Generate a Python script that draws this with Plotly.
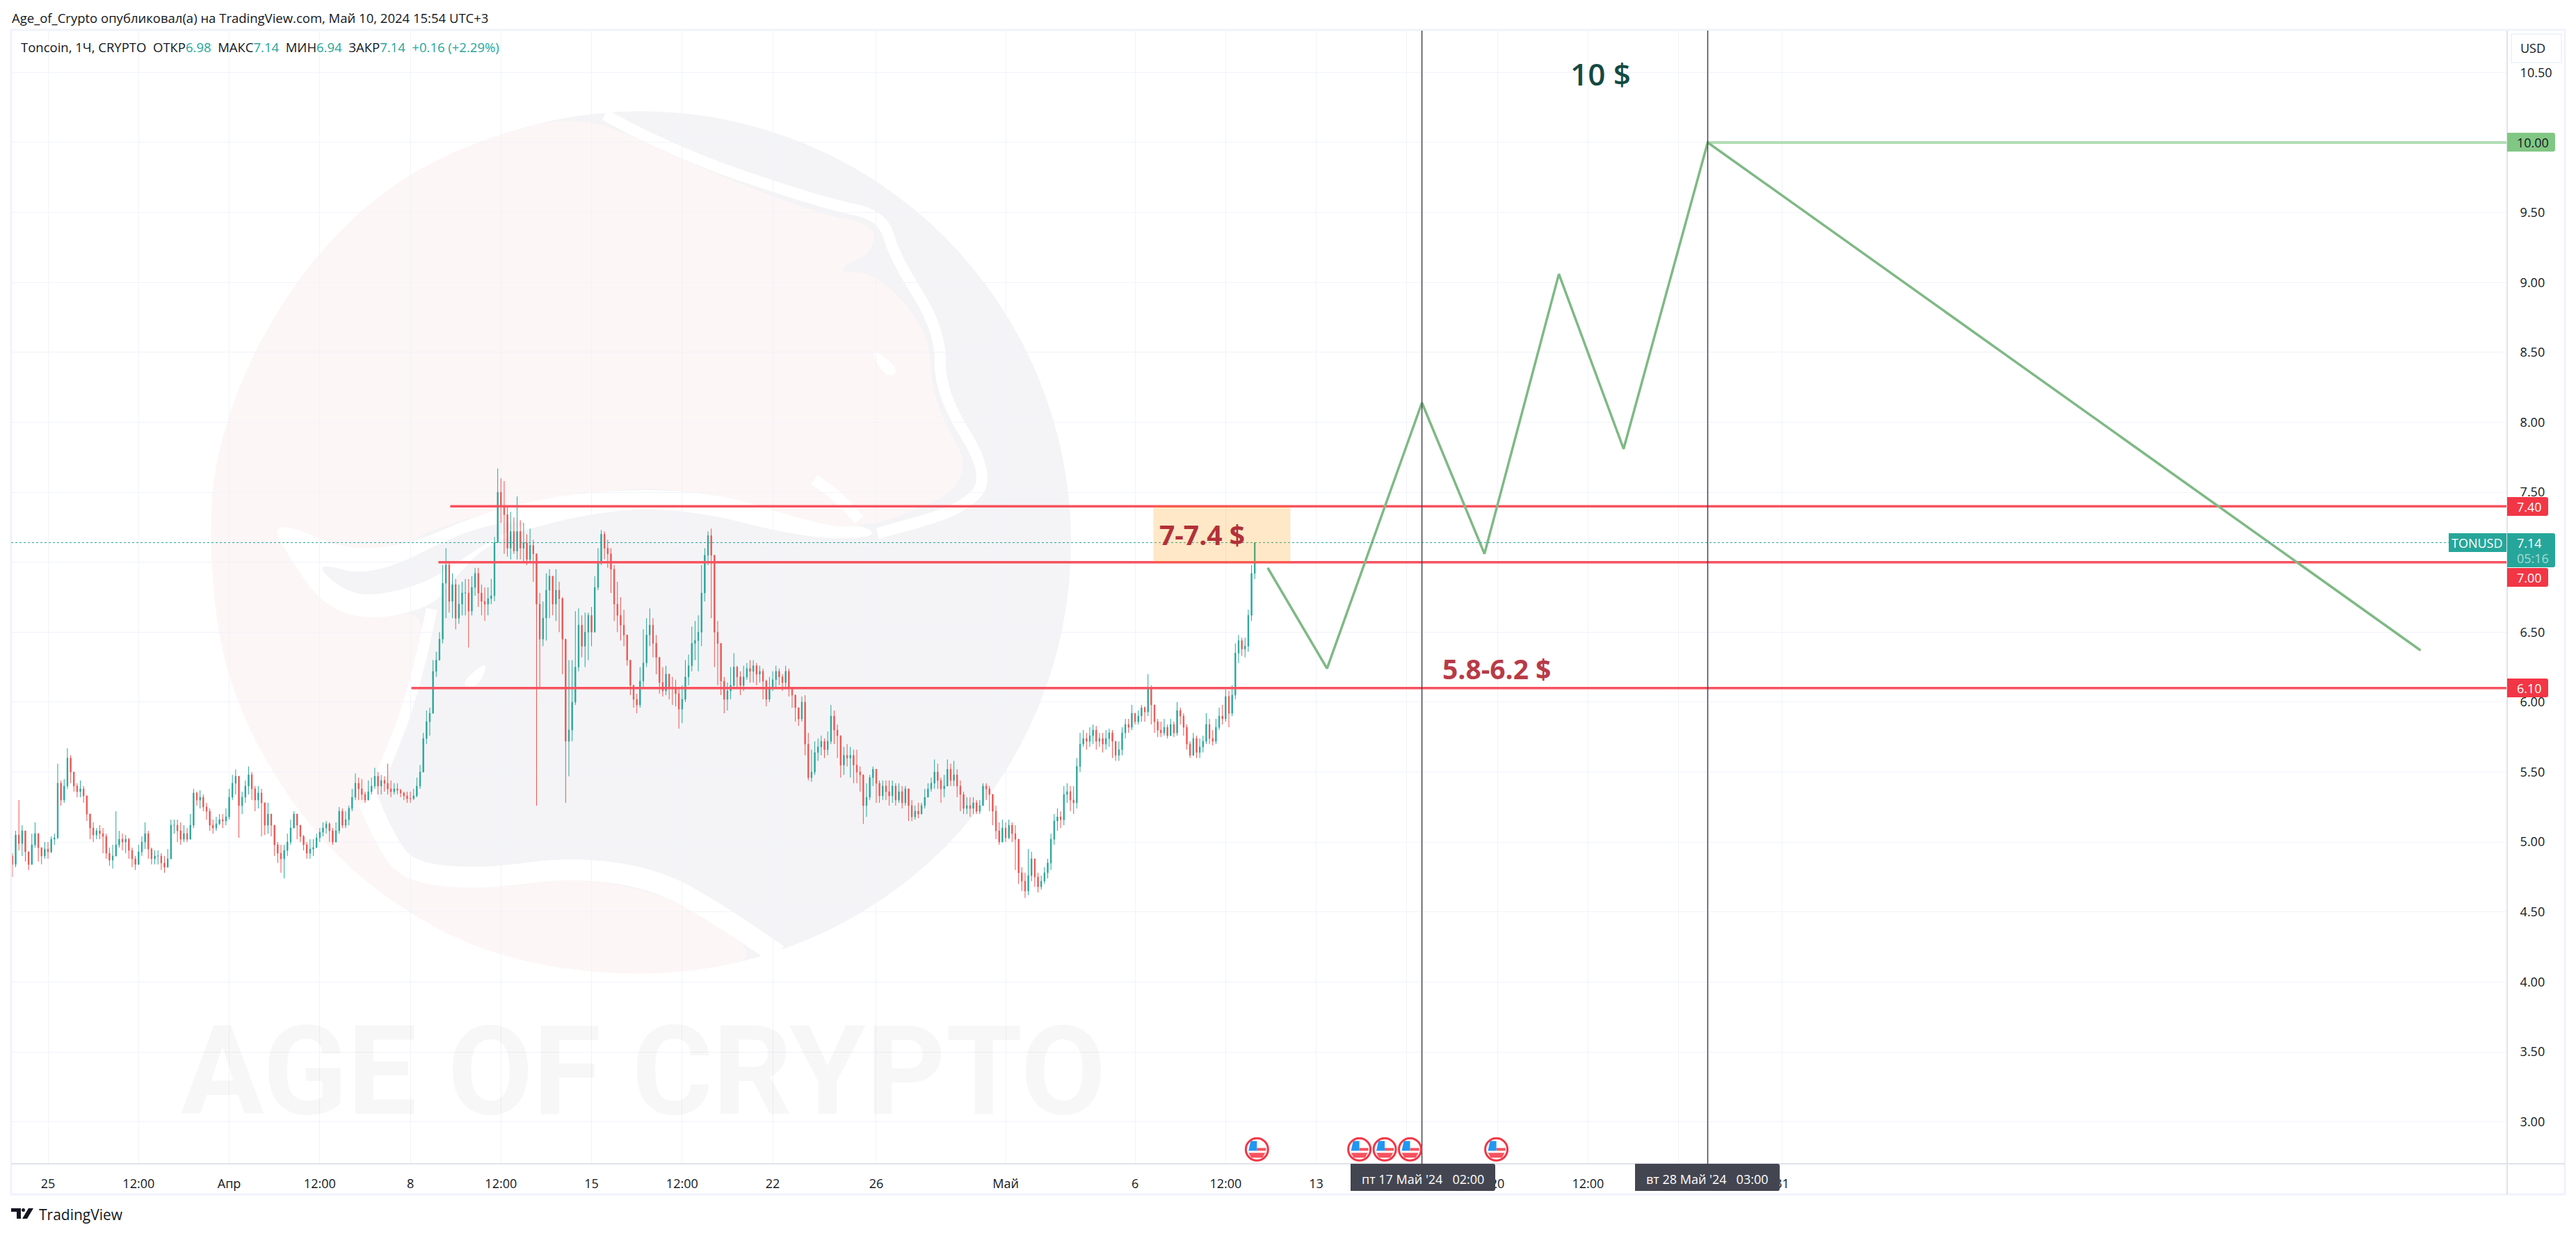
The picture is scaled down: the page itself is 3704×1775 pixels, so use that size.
# -*- coding: utf-8 -*-
# Toncoin chart with drawings, candles (3h steps)
import pandas as pd
import plotly.graph_objects as go

first_bar = "2024-03-23 15:00"
first_open = 4.90

close_prices = [
    4.84,5.05,4.99,5.08,4.93,4.84,4.98,5.06,4.96,4.90,
    4.95,4.93,5.02,5.03,5.42,5.30,5.40,5.60,5.50,5.40,
    5.36,5.38,5.33,5.20,5.10,5.05,5.08,5.06,5.04,4.92,
    4.87,4.90,4.98,5.02,5.00,5.02,4.94,4.88,4.84,4.93,
    5.00,5.06,4.95,4.88,4.90,4.90,4.85,4.82,4.88,5.12,
    5.12,5.08,5.02,5.06,5.02,5.12,5.35,5.30,5.32,5.25,
    5.22,5.12,5.10,5.13,5.16,5.15,5.18,5.32,5.42,5.47,
    5.26,5.32,5.40,5.48,5.38,5.30,5.35,5.28,5.12,5.20,
    5.12,4.98,4.92,4.88,4.94,5.00,5.10,5.20,5.12,5.04,
    4.98,4.92,4.95,4.96,5.03,5.07,5.10,5.13,5.08,5.00,
    5.08,5.22,5.12,5.16,5.24,5.32,5.42,5.38,5.34,5.30,
    5.36,5.40,5.47,5.40,5.44,5.42,5.38,5.36,5.38,5.37,
    5.35,5.33,5.31,5.31,5.33,5.40,5.50,5.74,5.86,5.92,
    6.22,6.30,6.45,6.85,6.98,6.72,6.84,6.60,6.70,6.78,
    6.78,6.65,6.82,6.92,6.78,6.72,6.70,6.74,6.76,7.14,
    7.50,7.40,7.34,7.10,7.22,7.08,7.22,7.10,7.14,7.02,
    7.12,7.06,6.70,6.45,6.60,6.80,6.90,6.70,6.80,6.74,
    6.45,5.72,5.80,6.00,6.25,6.55,6.40,6.50,6.62,6.50,
    6.82,7.00,7.20,7.10,7.06,6.95,6.70,6.62,6.55,6.48,
    6.30,6.12,6.02,5.98,6.15,6.28,6.48,6.55,6.42,6.32,
    6.14,6.08,6.20,6.10,6.10,6.06,5.95,6.02,6.18,6.26,
    6.42,
    6.44,6.50,6.78,7.05,7.19,7.05,6.50,6.42,6.15,6.02,
    6.08,6.12,6.25,6.18,6.12,6.18,6.24,6.22,6.26,6.20,
    6.22,6.15,6.02,6.10,6.16,6.22,6.18,6.14,6.22,6.10,
    6.05,5.96,5.88,6.00,5.70,5.46,5.50,5.64,5.68,5.72,
    5.66,5.72,5.90,5.80,5.76,5.55,5.62,5.60,5.62,5.55,
    5.50,5.48,5.26,5.32,5.46,5.52,5.42,5.33,5.40,5.36,
    5.33,5.40,5.30,5.36,5.28,5.38,5.26,5.18,5.22,5.20,
    5.26,5.32,5.38,5.42,5.50,5.44,5.38,5.40,5.52,5.44,
    5.48,5.40,5.34,5.24,5.26,5.24,5.28,5.22,5.26,5.40,
    5.38,5.34,5.22,5.08,5.00,5.10,5.03,5.12,5.06,5.02,
    4.78,4.72,4.65,4.76,4.88,4.75,4.68,4.72,4.78,4.85,
    5.02,5.15,5.18,5.16,5.34,5.36,5.30,5.28,5.54,5.70,
    5.74,5.72,5.76,5.80,5.72,5.74,5.70,5.74,5.78,5.72,
    5.62,5.66,5.78,5.84,5.82,5.92,5.86,5.90,5.96,5.93,
    6.10,5.98,5.86,5.80,5.78,5.82,5.76,5.84,5.78,5.94,
    5.90,5.82,5.70,5.62,5.74,5.64,5.68,5.72,5.84,5.74,
    5.72,5.82,5.90,5.88,6.04,5.92,6.05,6.35,6.44,6.38,
    6.40,6.62,6.92,7.14,
]
high_prices = [
    4.92,5.08,5.30,5.12,5.00,4.92,5.06,5.14,5.00,4.96,
    5.00,5.00,5.04,5.06,5.56,5.44,5.45,5.67,5.62,5.50,
    5.42,5.44,5.40,5.30,5.18,5.14,5.10,5.12,5.10,5.06,
    4.96,4.98,5.22,5.08,5.06,5.05,5.03,4.96,4.90,4.98,
    5.04,5.14,5.08,4.96,4.94,4.94,4.92,4.90,4.95,5.16,
    5.16,5.16,5.14,5.12,5.10,5.20,5.38,5.36,5.37,5.34,
    5.28,5.24,5.16,5.18,5.20,5.20,5.24,5.38,5.48,5.52,
    5.38,5.36,5.44,5.54,5.50,5.40,5.40,5.38,5.28,5.28,
    5.18,5.12,5.00,4.98,4.98,5.06,5.16,5.22,5.20,5.10,
    5.05,5.00,5.02,5.02,5.06,5.10,5.14,5.15,5.14,5.10,
    5.14,5.25,5.24,5.22,5.26,5.38,5.49,5.46,5.45,5.36,
    5.44,5.46,5.53,5.50,5.48,5.47,5.56,5.44,5.42,5.42,
    5.38,5.36,5.36,5.36,5.38,5.46,5.55,5.78,5.94,5.96,
    6.30,6.36,6.50,6.98,7.10,7.00,6.92,6.88,6.84,6.86,
    6.88,6.88,6.90,6.96,6.96,6.84,6.82,6.82,6.88,7.18,
    7.67,7.60,7.58,7.40,7.36,7.32,7.47,7.30,7.28,7.20,
    7.24,7.16,7.00,6.78,6.72,6.92,6.95,6.90,6.95,6.86,
    6.75,6.42,6.30,6.30,6.65,6.67,6.62,6.64,6.64,6.68,
    6.90,7.10,7.23,7.22,7.16,7.10,6.98,6.86,6.75,6.66,
    6.44,6.30,6.12,6.06,6.25,6.52,6.60,6.67,6.60,6.48,
    6.28,6.25,6.26,6.20,6.18,6.16,6.10,6.12,6.30,6.34,
    6.54,
    6.58,6.62,6.98,7.10,7.22,7.24,7.05,6.58,6.30,6.18,
    6.14,6.25,6.35,6.26,6.22,6.26,6.28,6.30,6.30,6.28,
    6.26,6.24,6.16,6.18,6.22,6.26,6.24,6.20,6.26,6.24,
    6.10,6.02,5.96,6.04,6.05,5.78,5.66,5.72,5.74,5.76,
    5.74,5.79,5.98,5.94,5.84,5.76,5.68,5.70,5.68,5.66,
    5.66,5.54,5.48,5.42,5.48,5.54,5.52,5.44,5.44,5.44,
    5.44,5.44,5.42,5.42,5.40,5.40,5.38,5.30,5.26,5.28,
    5.28,5.38,5.42,5.46,5.59,5.56,5.46,5.48,5.59,5.56,
    5.58,5.52,5.44,5.36,5.32,5.32,5.32,5.30,5.30,5.42,
    5.42,5.40,5.34,5.26,5.14,5.16,5.14,5.16,5.14,5.12,
    4.94,4.82,4.78,4.95,4.93,4.88,4.78,4.76,4.82,4.88,
    5.06,5.20,5.24,5.22,5.40,5.42,5.40,5.40,5.60,5.78,
    5.80,5.78,5.82,5.84,5.83,5.78,5.78,5.80,5.81,5.80,
    5.72,5.72,5.82,5.88,5.88,5.98,5.92,5.94,5.98,5.97,
    6.20,6.12,5.98,5.88,5.86,5.88,5.84,5.88,5.86,6.00,
    5.96,5.92,5.84,5.72,5.78,5.76,5.74,5.76,5.92,5.88,
    5.80,5.88,5.96,5.98,6.09,6.08,6.12,6.42,6.48,6.46,
    6.46,6.66,6.98,7.14,
]
low_prices = [
    4.75,4.82,4.94,4.90,4.86,4.80,4.84,4.96,4.86,4.84,
    4.88,4.88,4.92,4.98,5.02,5.26,5.28,5.38,5.42,5.36,
    5.32,5.32,5.28,5.15,5.02,5.00,5.02,5.02,4.92,4.88,
    4.83,4.81,4.90,4.96,4.94,4.92,4.88,4.82,4.80,4.84,
    4.90,4.95,4.88,4.84,4.84,4.84,4.80,4.78,4.82,4.88,
    5.06,5.00,4.98,5.00,5.00,5.02,5.10,5.26,5.24,5.22,
    5.16,5.08,5.06,5.08,5.12,5.10,5.12,5.16,5.30,5.34,
    5.03,5.20,5.28,5.34,5.30,5.22,5.24,5.04,5.05,5.06,
    5.04,4.90,4.85,4.78,4.74,4.90,4.98,5.10,5.02,5.00,
    4.94,4.88,4.88,4.90,4.96,5.00,5.04,5.06,5.00,4.98,
    5.02,5.06,5.10,5.10,5.12,5.22,5.30,5.30,5.30,5.28,
    5.30,5.34,5.38,5.34,5.34,5.36,5.34,5.32,5.34,5.34,
    5.32,5.30,5.28,5.28,5.30,5.32,5.38,5.50,5.70,5.76,
    5.96,6.18,6.30,6.42,6.60,6.64,6.60,6.52,6.56,6.62,
    6.62,6.39,6.62,6.76,6.68,6.62,6.58,6.62,6.70,6.72,
    7.14,7.28,7.06,7.04,7.02,7.06,7.02,7.02,7.00,6.98,
    7.00,6.86,5.26,6.10,6.40,6.44,6.60,6.62,6.58,6.50,
    6.20,5.28,5.47,5.72,5.98,6.22,6.32,6.25,6.30,6.40,
    6.50,6.80,6.98,7.02,6.96,6.78,6.58,6.50,6.44,6.40,
    6.26,6.05,5.96,5.92,5.96,6.10,6.25,6.40,6.32,6.20,
    6.06,6.04,6.05,6.02,5.98,5.97,5.81,5.85,6.00,6.12,
    6.22,
    6.30,6.22,6.40,6.72,6.98,6.60,6.25,6.12,6.05,5.92,
    5.94,6.02,6.10,6.10,6.05,6.08,6.16,6.14,6.14,6.12,
    6.14,6.02,5.97,6.00,6.08,6.10,6.12,6.08,6.10,6.04,
    5.96,5.86,5.83,5.86,5.62,5.44,5.43,5.48,5.58,5.62,
    5.60,5.62,5.70,5.70,5.60,5.46,5.48,5.54,5.46,5.42,
    5.42,5.36,5.13,5.18,5.30,5.40,5.28,5.28,5.30,5.30,
    5.26,5.28,5.26,5.28,5.24,5.26,5.15,5.15,5.16,5.17,
    5.20,5.24,5.32,5.36,5.38,5.38,5.28,5.32,5.40,5.40,
    5.40,5.32,5.22,5.20,5.20,5.18,5.20,5.20,5.20,5.26,
    5.30,5.22,5.12,5.02,4.98,5.00,5.00,5.02,5.00,4.80,
    4.70,4.65,4.60,4.62,4.72,4.68,4.64,4.66,4.70,4.74,
    4.80,4.98,5.08,5.10,5.12,5.28,5.22,5.20,5.24,5.50,
    5.68,5.66,5.68,5.70,5.66,5.68,5.64,5.66,5.68,5.60,
    5.58,5.58,5.62,5.74,5.78,5.80,5.84,5.84,5.86,5.86,
    5.90,5.84,5.78,5.75,5.75,5.76,5.74,5.76,5.75,5.76,
    5.84,5.76,5.66,5.60,5.64,5.60,5.60,5.64,5.70,5.70,
    5.69,5.70,5.80,5.84,5.86,5.82,5.90,6.02,6.28,6.33,
    6.32,6.36,6.58,6.88,
]

y_ticks = [3.0,3.5,4.0,4.5,5.0,5.5,6.0,6.5,7.0,7.5,8.0,8.5,9.0,9.5,10.0,10.5]
x_ticks = ["2024-03-25","2024-03-28 12:00","2024-04-01","2024-04-04 12:00","2024-04-08",
           "2024-04-11 12:00","2024-04-15","2024-04-18 12:00","2024-04-22","2024-04-26",
           "2024-05-01","2024-05-06","2024-05-09 12:00","2024-05-13","2024-05-16 12:00",
           "2024-05-20","2024-05-23 12:00","2024-05-27","2024-05-31"]
# the ticks under the two time chips have no visible label
x_labels = ["25","12:00","Апр","12:00","8","12:00","15","12:00","22","26","Май","6","12:00",
            "13","","20","12:00","","31"]

forecast_x = ["2024-05-11 03:00","2024-05-13 10:00","2024-05-17 02:00","2024-05-19 12:00",
              "2024-05-22 09:00","2024-05-24 21:00","2024-05-28 03:00","2024-06-24 16:00"]
forecast_y = [6.96,6.24,8.14,7.06,9.06,7.81,10.0,6.37]

level_prices = [7.40,7.00,6.10]
level_starts = ["2024-04-09 13:00","2024-04-09 02:00","2024-04-08 01:00"]
event_dates = ["2024-05-10 17:00","2024-05-14 16:00","2024-05-15 15:30","2024-05-16 15:00","2024-05-19 23:00"]
marker_dates = ["2024-05-17 02:00","2024-05-28 03:00"]

last_price = 7.14
target_price = 10.0
x_range = ["2024-03-23 13:48","2024-06-28 00:18"]
y_range = [2.70,10.80]

W, H = 3704, 1775
L, R, T, B = 16, 3605, 44, 1674

TEAL = "#26a69a"
RED = "#ef5350"
LEVEL = "#f7525f"
CHIP_RED = "#f23645"
GREEN = "#81c784"
INK = "#131722"
GRID = "#f0f3fa"
FONT = "Open Sans"
PINK_WM = "#fdf6f6"
GRAY_WM = "#f4f4f6"


def px(x):
    return (x - L) / (R - L)


def py(y):
    return (B - y) / (B - T)


def smooth(points, closed=True):
    # quadratic curves through the midpoints, pixel points to paper fractions
    p = [(px(a), py(b)) for a, b in points]
    if closed:
        start = ((p[-1][0] + p[0][0]) / 2, (p[-1][1] + p[0][1]) / 2)
        s = f"M{start[0]},{start[1]}"
        for i in range(len(p)):
            n = p[(i + 1) % len(p)]
            s += f" Q{p[i][0]},{p[i][1]} {(p[i][0]+n[0])/2},{(p[i][1]+n[1])/2}"
        return s + " Z"
    s = f"M{p[0][0]},{p[0][1]}"
    for i in range(1, len(p) - 1):
        n = p[i + 1]
        s += f" Q{p[i][0]},{p[i][1]} {(p[i][0]+n[0])/2},{(p[i][1]+n[1])/2}"
    return s + f" L{p[-1][0]},{p[-1][1]}"


def wm(points):
    # watermark outline was measured on a crop, bring it back to page pixels
    return [(200 + a / 1.0453, 100 + b / 1.0116) for a, b in points]


def rounded(x0, y0, x1, y1, r=3):
    a, b, c, d = px(x0), py(y0), px(x1), py(y1)
    rx, ry = r / (R - L), r / (B - T)
    return (f"M{a},{b} L{c-rx},{b} Q{c},{b} {c},{b-ry} L{c},{d+ry} Q{c},{d} {c-rx},{d} "
            f"L{a},{d} Z")


shapes = []
notes = []


def page_rect(x0, y0, x1, y1, fill, line=None, width=0, layer="above"):
    shapes.append(dict(type="rect", xref="paper", yref="paper", x0=px(x0), x1=px(x1), y0=py(y0), y1=py(y1),
                       fillcolor=fill, line=dict(color=line or "rgba(0,0,0,0)", width=width), layer=layer))


def blob(points, fill):
    shapes.append(dict(type="path", xref="paper", yref="paper", path=smooth(wm(points)), fillcolor=fill,
                       line=dict(width=0), layer="below"))


def stroke(points, width):
    shapes.append(dict(type="path", xref="paper", yref="paper", path=smooth(wm(points), closed=False),
                       fillcolor="rgba(0,0,0,0)", line=dict(color="white", width=width), layer="below"))


def chip(x0, y0, x1, y1, fill):
    shapes.append(dict(type="path", xref="paper", yref="paper", path=rounded(x0, y0, x1, y1), fillcolor=fill,
                       line=dict(width=0), layer="above"))


def text(x, y, s, size=18, color=INK, anchor="center", weight=None, family=FONT):
    notes.append(dict(xref="paper", yref="paper", x=px(x), y=py(y), text=s, showarrow=False, xanchor=anchor,
                      yanchor="middle", borderpad=0,
                      font=dict(size=size, color=color, family=family, weight=weight)))


# watermark: disc, pink head, white swooshes
shapes.append(dict(type="circle", xref="paper", yref="paper", x0=px(304), x1=px(1540), y0=py(160), y1=py(1400),
                   fillcolor=GRAY_WM, line=dict(width=0), layer="below"))
blob([(680, 68), (560, 85), (400, 150), (265, 265), (165, 420), (112, 570), (106, 700), (122, 850), (170, 975),
      (250, 1095), (340, 1185), (470, 1265), (600, 1305), (740, 1318), (850, 1310), (932, 1292), (860, 1235),
      (770, 1195), (650, 1175), (520, 1195), (420, 1170), (370, 1110), (340, 1060), (400, 950), (440, 785),
      (350, 800), (270, 760), (190, 650), (350, 720), (450, 660), (700, 610), (830, 610), (960, 650),
      (1040, 680), (1085, 660), (1120, 660), (1262, 600), (1190, 480), (1190, 385), (1110, 295), (1040, 295),
      (1105, 265), (1105, 225), (1020, 210), (820, 135)], PINK_WM)
blob([(190, 648), (350, 716), (560, 625), (830, 604), (1040, 668), (1090, 662), (1110, 682), (1000, 682),
      (830, 640), (700, 640), (530, 682), (470, 745), (440, 782), (350, 802), (280, 782), (235, 725)], "white")
blob([(262, 715), (300, 755), (350, 768), (440, 745), (530, 682), (600, 655), (500, 665), (350, 740)], GRAY_WM)
stroke([(700, 66), (800, 120), (1030, 195), (1118, 212), (1135, 272), (1205, 380), (1203, 470), (1280, 590),
        (1240, 640), (1110, 675)], 16)
stroke([(345, 1065), (375, 1135), (415, 1170), (520, 1178), (650, 1160), (780, 1178), (880, 1235), (960, 1288)], 30)
stroke([(440, 785), (415, 900), (372, 1010), (345, 1065)], 16)
stroke([(1015, 597), (1050, 620), (1082, 655)], 16)
blob([(527, 857), (510, 900), (480, 895)], "white")
blob([(1095, 400), (1145, 437), (1122, 450)], "white")

text(925, 1541, "AGE OF CRYPTO", size=178, color="rgba(60,60,70,0.045)", weight=700, family="Roboto")

# frame and axis borders
page_rect(16, 43, 3688, 1718, "rgba(0,0,0,0)", line=GRID, width=3)
shapes.append(dict(type="line", xref="paper", yref="paper", x0=px(16), x1=px(3688), y0=py(1674), y1=py(1674),
                   line=dict(color="#e0e3eb", width=2)))
shapes.append(dict(type="line", xref="paper", yref="paper", x0=px(3605), x1=px(3605), y0=py(44), y1=py(1718),
                   line=dict(color="#e0e3eb", width=2)))

fig = go.Figure()

bar_times = pd.date_range(first_bar, periods=len(close_prices), freq="3h")
open_prices = [first_open] + close_prices[:-1]
fig.add_trace(go.Candlestick(
    x=bar_times, open=open_prices, high=high_prices, low=low_prices, close=close_prices,
    increasing=dict(line=dict(color=TEAL, width=1), fillcolor=TEAL),
    decreasing=dict(line=dict(color=RED, width=1), fillcolor=RED),
    whiskerwidth=0, showlegend=False))

for start, level in zip(level_starts, level_prices):
    fig.add_trace(go.Scatter(x=[start, x_range[1]], y=[level, level], mode="lines",
                             line=dict(color=LEVEL, width=3.5), showlegend=False))

fig.add_trace(go.Scatter(x=[forecast_x[6], x_range[1]], y=[target_price, target_price], mode="lines",
                         line=dict(color="#b2ddb4", width=4), showlegend=False))
fig.add_trace(go.Scatter(x=forecast_x, y=forecast_y, mode="lines",
                         line=dict(color="#7fb985", width=3.5), showlegend=False))

# last price line and the two time markers
shapes.append(dict(type="line", xref="x", yref="y", x0=x_range[0], x1="2024-06-25 18:00", y0=last_price, y1=last_price,
                   line=dict(color=TEAL, width=1, dash="dot"), layer="above"))
for when in marker_dates:
    shapes.append(dict(type="line", xref="x", yref="paper", x0=when, x1=when, y0=0, y1=1,
                       line=dict(color="#434651", width=1.5), layer="above"))
shapes.append(dict(type="rect", xref="x", yref="y", x0="2024-05-06 17:00", x1="2024-05-12 00:00", y0=7.0, y1=7.4,
                   fillcolor="rgba(255,152,0,0.22)", line=dict(width=0), layer="above"))

text(1728, 768, "7-7.4 $", size=39, color="#b2303a", weight=700)
text(2152, 961, "5.8-6.2 $", size=39, color="#b83b47", weight=700)
text(2301, 106, "10 $", size=44, color="#144a42", weight=600)

# event flags on the time scale
flag_price = 2.803
for when in event_dates:
    base = dict(xref="x", yref="y", xsizemode="pixel", ysizemode="pixel", xanchor=when, yanchor=flag_price, layer="above")
    shapes.append(dict(type="circle", x0=-16, x1=16, y0=-16, y1=16, fillcolor="white",
                       line=dict(color=CHIP_RED, width=3), **base))
    shapes.append(dict(type="path", path="M-12,-5 L12,-5 L8,-12 L-8,-12 Z", fillcolor="#f7525f", line=dict(width=0), **base))
    shapes.append(dict(type="path", path="M0,2 L13,2 L13,-2 L0,-2 Z", fillcolor="#f7525f", line=dict(width=0), **base))
    shapes.append(dict(type="path", path="M-12,-2 L0,-2 L0,12 L-9,12 Z", fillcolor="#2196f3", line=dict(width=0), **base))

# time chips
chip(1942, 1674, 2150, 1713, "#434651")
text(2046, 1696, "пт 17 Май '24   02:00", color="white")
chip(2351, 1674, 2559, 1713, "#434651")
text(2455, 1696, "вт 28 Май '24   03:00", color="white")

# price chips
chip(3605, 191, 3674, 218, GREEN)
text(3642, 205, "10.00")
chip(3605, 715, 3664, 742, CHIP_RED)
text(3637, 729, "7.40", color="white")
chip(3605, 817, 3664, 844, CHIP_RED)
text(3637, 831, "7.00", color="white")
chip(3605, 976, 3664, 1003, CHIP_RED)
text(3637, 990, "6.10", color="white")
chip(3605, 767, 3674, 816, TEAL)
text(3637, 781, "7.14", color="white")
text(3642, 803, "05:16", color="#a8dbd6")
page_rect(3521, 767, 3604, 794, TEAL)
text(3562, 781, "TONUSD", color="white")

# USD box
page_rect(3611, 49, 3683, 90, "white", line=GRID, width=2)
text(3642, 69, "USD")

# header, legend line, logo
text(16, 25, "Age_of_Crypto опубликовал(а) на TradingView.com, Май 10, 2024 15:54 UTC+3", size=18.5, anchor="left")
val = '<span style="color:%s">%%s</span>' % TEAL
text(29, 67, "Toncoin, 1Ч, CRYPTO  ОТКР" + val % "6.98" + "  МАКС" + val % "7.14" + "  МИН" + val % "6.94"
     + "  ЗАКР" + val % "7.14" + "  " + val % "+0.16 (+2.29%)", size=18.5, anchor="left")
page_rect(16, 1738, 30, 1743, INK)
page_rect(24, 1743, 30, 1753, INK)
shapes.append(dict(type="circle", xref="paper", yref="paper", x0=px(31), x1=px(36), y0=py(1738), y1=py(1743),
                   fillcolor=INK, line=dict(width=0)))
shapes.append(dict(type="path", xref="paper", yref="paper", fillcolor=INK, line=dict(width=0),
                   path=f"M{px(41)},{py(1738)} L{px(48)},{py(1738)} L{px(39)},{py(1753)} L{px(32)},{py(1753)} Z"))
text(55, 1747, "TradingView", size=21, anchor="left")

fig.update_layout(
    width=W, height=H, autosize=False,
    margin=dict(l=L, r=W - R, t=T, b=H - B, pad=0),
    paper_bgcolor="white", plot_bgcolor="rgba(0,0,0,0)",
    font=dict(family=FONT, size=18, color=INK),
    boxgap=0.6,
    shapes=shapes, annotations=notes, showlegend=False,
    xaxis=dict(type="date", range=x_range, rangeslider=dict(visible=False),
               tickmode="array", tickvals=x_ticks, ticktext=x_labels, tickangle=0,
               ticks="outside", ticklen=12, tickcolor="rgba(0,0,0,0)",
               showgrid=True, gridcolor=GRID, gridwidth=1, zeroline=False, showline=False),
    yaxis=dict(side="right", range=y_range, tickmode="array", tickvals=y_ticks,
               ticktext=[f"{v:.2f}" for v in y_ticks],
               ticks="outside", ticklen=14, tickcolor="rgba(0,0,0,0)",
               showgrid=True, gridcolor=GRID, gridwidth=1, zeroline=False, showline=False),
)

fig.write_html("out.html", config=dict(displayModeBar=False),
               post_script="document.body.style.margin='0';document.body.style.overflow='hidden';")
